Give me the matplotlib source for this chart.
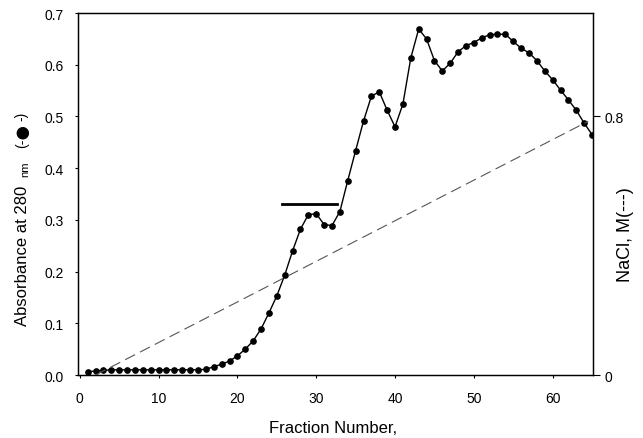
import matplotlib
matplotlib.use("Agg")
from matplotlib import pyplot as plt

plt.rcParams['font.family'] = ['Liberation Sans', 'DejaVu Sans']
plt.rcParams['font.size'] = 10

# absorbance at 280 nm, fractions 1..65
fractions = list(range(1, 66))
absorbance = [0.006, 0.008, 0.009, 0.010, 0.010, 0.010, 0.010, 0.010, 0.010, 0.010,
              0.010, 0.010, 0.010, 0.010, 0.010, 0.011, 0.016, 0.021, 0.027, 0.037,
              0.050, 0.066, 0.089, 0.120, 0.153, 0.193, 0.240, 0.282, 0.310, 0.312,
              0.291, 0.289, 0.316, 0.376, 0.434, 0.491, 0.539, 0.548, 0.512, 0.480,
              0.524, 0.613, 0.669, 0.650, 0.608, 0.588, 0.603, 0.625, 0.637, 0.643,
              0.652, 0.658, 0.659, 0.659, 0.645, 0.632, 0.623, 0.608, 0.588, 0.571,
              0.551, 0.532, 0.512, 0.487, 0.465]

# NaCl gradient (M)
nacl_frac = [2, 64.5]
nacl_conc = [0.0, 0.785]

# pooled fractions bar
pool_frac = [25.6, 32.6]
pool_level = [0.33, 0.33]

fig = plt.figure(figsize=(6.43, 4.39), dpi=100)
ax = fig.add_axes([0.121, 0.1435, 0.801, 0.8245])
ax.plot(fractions, absorbance, color='black', lw=1.0, marker='o', markersize=3.8)
ax.plot(pool_frac, pool_level, color='black', lw=2.0)
ax.set_xlim(-0.25, 65.1)
ax.set_ylim(0, 0.7)
ax.set_xticks(range(0, 70, 10))
ax.set_yticks([0, 0.1, 0.2, 0.3, 0.4, 0.5, 0.6, 0.7])
ax.set_yticklabels(['0.0', '0.1', '0.2', '0.3', '0.4', '0.5', '0.6', '0.7'])
ax.tick_params(axis='x', direction='out', length=2.5, width=0.8, pad=9)
ax.tick_params(axis='y', direction='out', length=2.5, width=0.8, pad=7.5)
for s in ax.spines.values():
    s.set_linewidth(0.9)

ax2 = ax.twinx()
ax2.plot(nacl_frac, nacl_conc, color='#555555', lw=0.8, linestyle=(0, (10, 5)))
ax2.set_ylim(0, 1.12)
ax2.set_yticks([0, 0.8])
ax2.set_yticklabels(['0', '0.8'])
ax2.tick_params(axis='y', direction='out', length=5, width=0.8, pad=3.5)
for s in ax2.spines.values():
    s.set_linewidth(0.9)

fig.text(0.518, 0.025, 'Fraction Number,', ha='center', va='center', fontsize=12)
fig.text(0.973, 1 - 235 / 439, 'NaCl, M(---)', ha='center', va='center', rotation=90, fontsize=13)

# left label built from pieces of different size
main = fig.text(0.035, 1 - 326 / 439, 'Absorbance at 280', rotation=90, ha='center', va='bottom',
                fontsize=12)
nm = ax.annotate('nm', xy=(1, 1), xycoords=main, xytext=(0, 6), textcoords='offset points',
                 rotation=90, ha='right', va='bottom', fontsize=8)
prev = nm
for txt, size, gap in [('(-', 10, 10), ('\u25cf', 21, 0), ('-)', 10, 0)]:
    prev = ax.annotate(txt, xy=(0.5, 1), xycoords=(main, prev), xytext=(-0.5, gap),
                       textcoords='offset points', rotation=90, ha='center', va='bottom',
                       fontsize=size)

fig.savefig('out.png', dpi=100)
